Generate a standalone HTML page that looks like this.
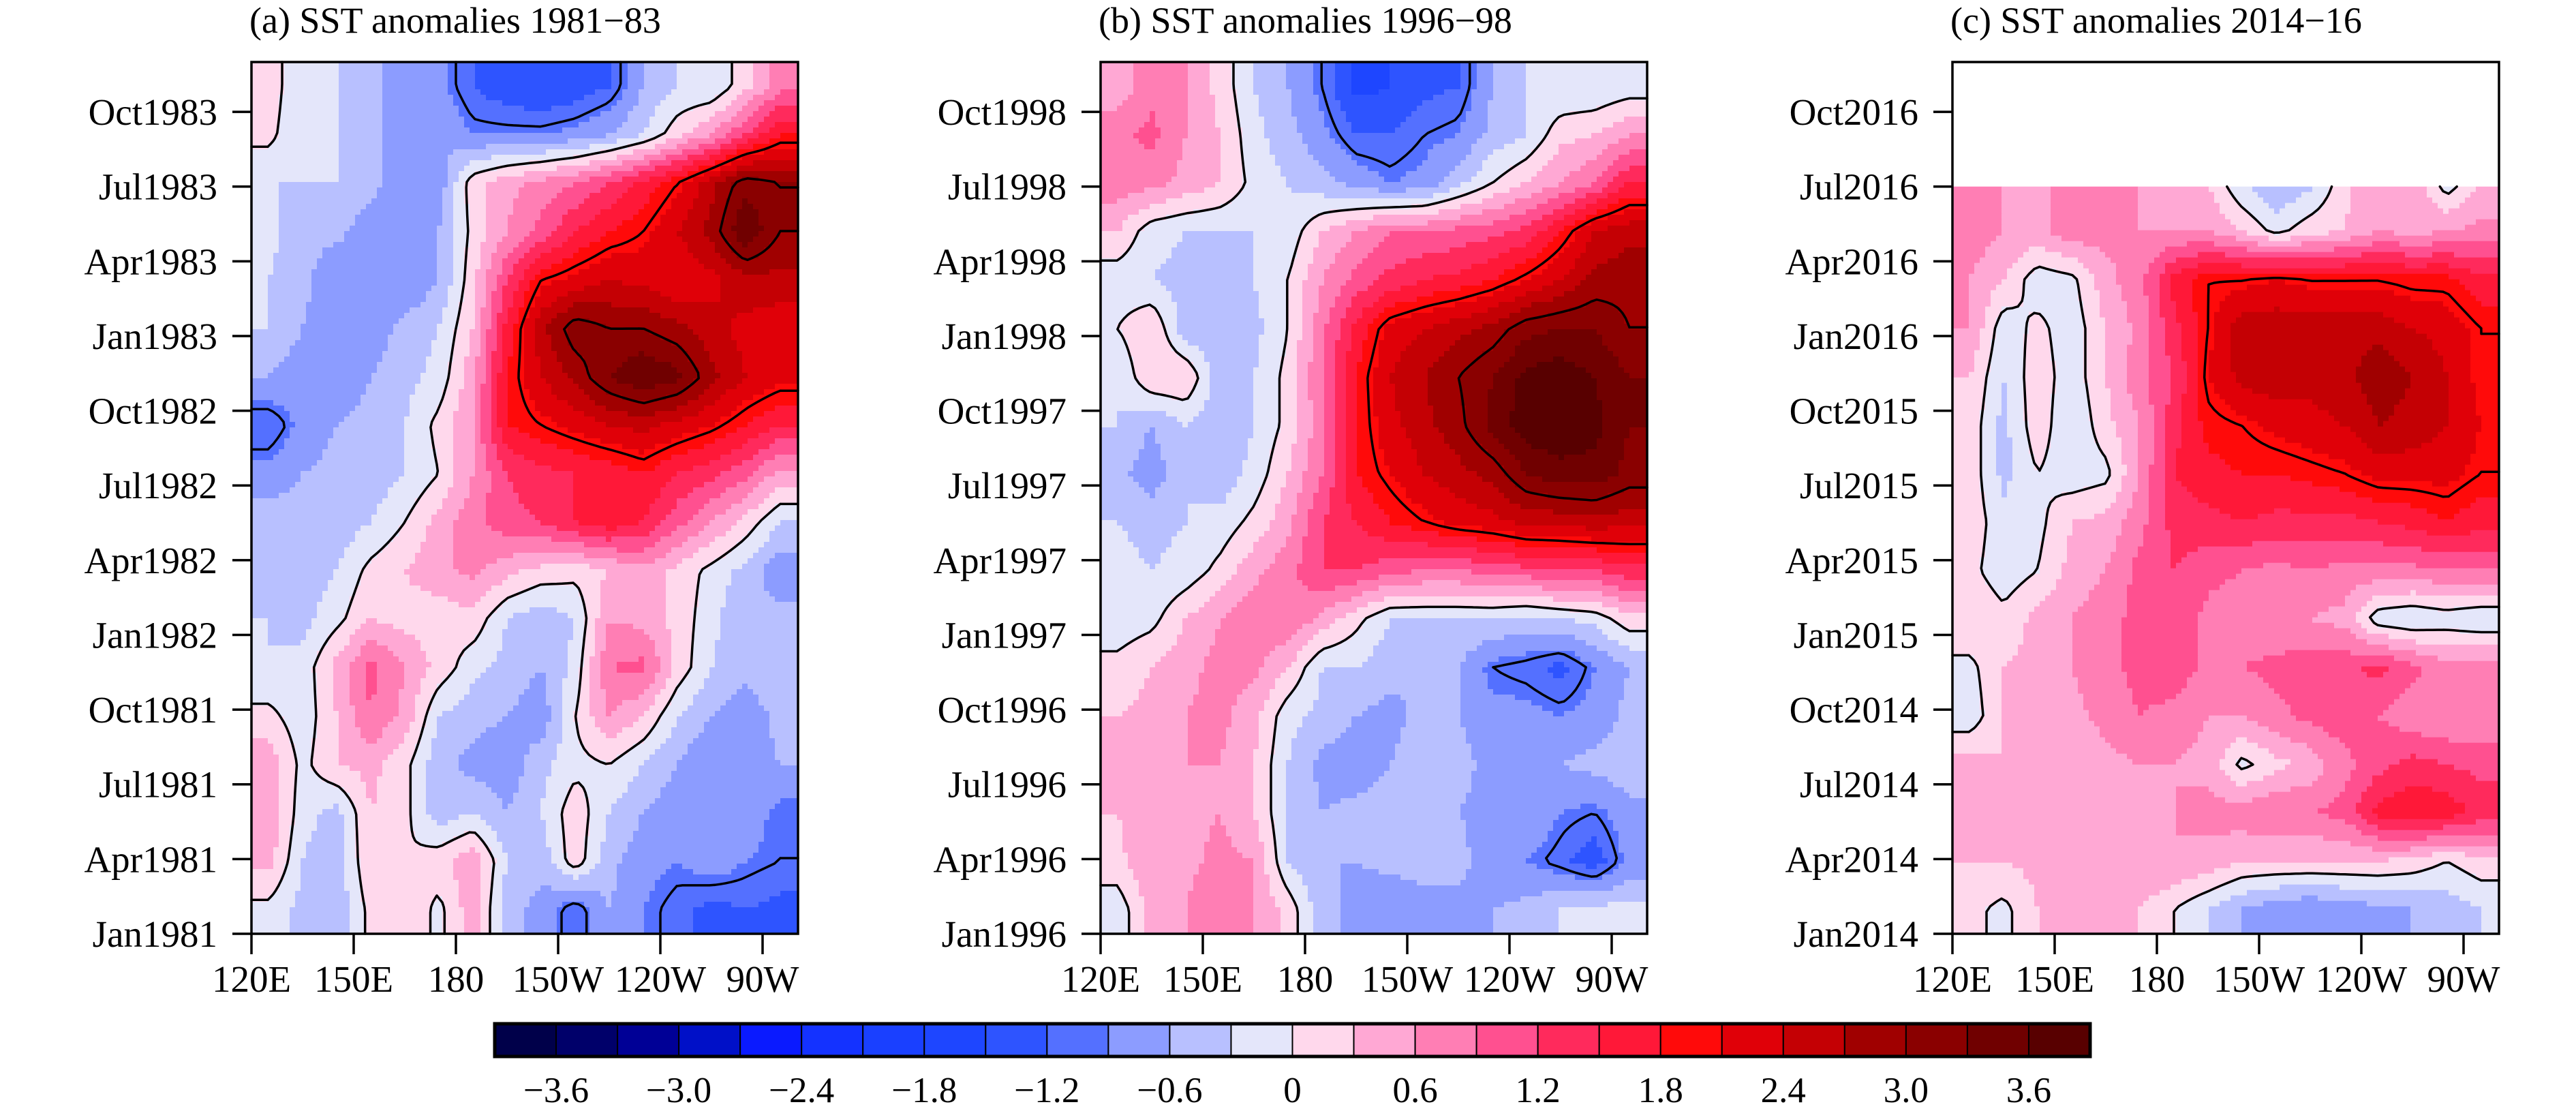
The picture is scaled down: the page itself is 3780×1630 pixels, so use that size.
<!DOCTYPE html>
<html><head><meta charset="utf-8">
<style>
html,body{margin:0;padding:0;background:#fff;}
svg{display:block;font-family:"Liberation Serif",serif;}
</style></head>
<body>
<svg id="fig" width="3780" height="1630" viewBox="0 0 3780 1630" xmlns="http://www.w3.org/2000/svg"></svg>
<script>
// ---- data ----
const lonCenters = [125,135,145,155,165,175,185,195,205,215,225,235,245,255,265,275];
const lonTicks = [120,150,180,210,240,270];
const lonTickLabels = ["120E","150E","180","150W","120W","90W"];
const levelLabels = ["−3.6","−3.0","−2.4","−1.8","−1.2","−0.6","0","0.6","1.2","1.8","2.4","3.0","3.6"];
const levelColors = ["#00004a","#00006a","#000096","#0010c8","#0a1aff","#1432ff","#1a40ff","#1e46ff","#2e54ff","#5470ff","#8c9cff","#b8c0ff","#e4e6fa","#ffd8ec","#ffa8d4","#ff7eb4","#ff5090","#ff2a5c","#ff1838","#ff0a0a","#e00008","#c40004","#a00000","#8a0000","#700000","#580000"];
const contourLevels = [-1, 0, 2, 3];
const titlesA = "(a) SST anomalies 1981−83";
const titlesB = "(b) SST anomalies 1996−98";
const titlesC = "(c) SST anomalies 2014−16";
const timeLabelsA = ["Jan1981","Apr1981","Jul1981","Oct1981","Jan1982","Apr1982","Jul1982","Oct1982","Jan1983","Apr1983","Jul1983","Oct1983"];
const timeLabelsB = ["Jan1996","Apr1996","Jul1996","Oct1996","Jan1997","Apr1997","Jul1997","Oct1997","Jan1998","Apr1998","Jul1998","Oct1998"];
const timeLabelsC = ["Jan2014","Apr2014","Jul2014","Oct2014","Jan2015","Apr2015","Jul2015","Oct2015","Jan2016","Apr2016","Jul2016","Oct2016"];
// rows top (latest) -> bottom (earliest), 18 rows spanning 35 months
const sstA = [
[0.2,-0.3,-0.3,-0.5,-0.8,-0.8,-1.2,-1.4,-1.5,-1.4,-1.2,-0.6,-0.3,-0.3,0.2,0.8],
[0.1,-0.3,-0.3,-0.6,-0.6,-0.6,-0.9,-0.9,-0.9,-0.8,-0.6,-0.3,0.2,0.6,1.2,1.8],
[-0.3,-0.3,-0.3,-0.5,-0.8,-0.8,0.2,0.5,0.7,0.9,1.2,1.6,2.0,2.6,3.2,3.0],
[-0.2,-0.5,-0.5,-0.8,-0.8,-0.6,0.1,0.6,1.0,1.5,1.8,2.0,2.4,2.8,3.6,3.0],
[-0.3,-0.5,-0.9,-0.9,-0.9,-0.6,0.2,1.2,2.0,2.2,2.4,2.3,2.1,2.3,2.6,2.6],
[-0.3,-0.6,-0.8,-0.8,-0.5,-0.3,0.3,1.6,2.6,3.2,3.0,3.0,2.8,2.5,2.3,2.2],
[-0.6,-0.8,-0.8,-0.6,-0.4,-0.2,0.5,1.8,2.4,2.8,3.3,3.6,3.4,2.8,2.4,2.2],
[-1.2,-0.8,-0.6,-0.5,-0.3,0.1,0.6,1.8,2.0,2.2,2.4,2.5,2.3,2.1,1.8,1.5],
[-0.8,-0.6,-0.5,-0.5,-0.3,0.0,0.6,1.2,1.4,1.5,1.6,1.8,1.5,1.3,1.0,0.5],
[-0.4,-0.5,-0.5,-0.3,0.0,0.4,0.8,1.1,1.2,1.5,1.7,1.5,1.0,0.6,0.2,-0.3],
[-0.4,-0.5,-0.3,0.1,0.3,0.5,0.7,0.4,0.2,0.1,0.3,0.5,0.2,-0.1,-0.4,-0.8],
[-0.3,-0.4,-0.1,0.3,0.2,0.1,0.2,-0.3,-0.5,-0.3,0.6,0.5,0.2,-0.2,-0.6,-0.5],
[-0.3,-0.2,0.4,1.0,0.6,0.2,-0.2,-0.4,-0.6,-0.2,0.9,1.0,0.2,-0.3,-0.5,-0.3],
[0.1,-0.2,0.3,0.9,0.5,-0.3,-0.5,-0.6,-0.8,0.0,0.6,0.3,-0.3,-0.6,-0.8,-0.5],
[0.5,-0.1,0.3,0.4,0.1,-0.5,-0.7,-0.8,-0.4,-0.1,0.0,-0.3,-0.6,-0.9,-0.8,-0.6],
[0.6,-0.2,-0.4,0.3,0.1,-0.5,-0.3,-0.6,-0.3,0.2,-0.3,-0.6,-0.8,-0.9,-0.7,-1.0],
[0.4,-0.3,-0.5,0.3,0.0,0.2,0.5,-0.3,-0.5,0.2,-0.5,-0.8,-0.9,-0.7,-0.9,-1.0],
[-0.1,-0.4,-0.5,0.1,0.3,-0.1,0.5,-0.5,-0.7,-1.2,-0.6,-0.9,-1.1,-1.3,-1.2,-1.3]
];
const sstB = [
[0.4,0.8,0.6,0.2,-0.3,-0.6,-1.0,-1.6,-1.5,-1.3,-1.2,-0.6,-0.3,-0.3,-0.3,-0.2],
[0.8,1.0,0.6,0.3,-0.2,-0.5,-0.8,-1.2,-1.2,-1.0,-0.9,-0.5,-0.3,0.2,0.3,0.6],
[0.8,0.7,0.5,0.3,-0.1,-0.3,-0.5,-0.7,-0.9,-0.8,-0.4,0.0,0.3,0.6,0.9,1.5],
[0.3,-0.2,-0.3,-0.3,-0.3,-0.2,0.3,0.6,0.9,0.9,1.0,1.1,1.3,1.8,2.4,2.6],
[-0.2,-0.3,-0.4,-0.6,-0.3,0.0,0.6,1.0,1.3,1.5,1.6,1.8,2.1,2.4,2.8,2.9],
[0.0,0.3,-0.5,-0.6,-0.4,0.0,0.8,1.6,2.2,2.4,2.6,2.8,3.2,3.3,3.3,3.0],
[-0.3,0.3,0.3,-0.5,-0.3,0.1,0.9,1.8,2.4,2.7,3.0,3.3,3.7,3.8,3.6,3.3],
[-0.3,-0.6,-0.3,-0.5,-0.3,0.1,0.8,1.8,2.3,2.6,2.9,3.4,3.8,3.8,3.7,3.3],
[-0.5,-0.8,-0.3,-0.5,-0.2,0.3,0.9,1.8,2.1,2.4,2.6,2.8,3.3,3.5,3.5,3.2],
[-0.3,-0.4,-0.3,-0.2,0.1,0.5,1.2,1.5,1.8,2.0,2.2,2.3,2.5,2.5,2.6,2.5],
[-0.2,-0.3,-0.2,0.1,0.5,0.8,1.2,1.2,1.0,0.9,0.9,1.0,1.1,1.2,1.2,1.4],
[-0.2,-0.1,0.3,0.6,0.8,0.9,0.5,0.1,-0.3,-0.3,-0.3,-0.3,-0.4,-0.3,-0.2,0.2],
[0.1,0.3,0.5,0.7,0.7,0.3,-0.3,-0.3,-0.5,-0.6,-0.6,-1.0,-1.1,-1.3,-0.9,-0.6],
[0.3,0.4,0.6,0.7,0.4,-0.2,-0.4,-0.6,-0.7,-0.5,-0.6,-0.8,-0.8,-0.9,-0.8,-0.5],
[0.3,0.5,0.6,0.6,0.3,-0.3,-0.7,-0.8,-0.6,-0.4,-0.5,-0.7,-0.6,-0.6,-0.5,-0.4],
[0.3,0.6,0.5,0.6,0.3,-0.3,-0.6,-0.5,-0.4,-0.5,-0.6,-0.7,-0.6,-0.9,-1.0,-0.7],
[0.2,0.6,0.5,0.7,0.6,-0.3,-0.6,-0.6,-0.5,-0.4,-0.5,-0.8,-0.9,-1.1,-1.4,-0.8],
[-0.2,0.4,0.6,0.9,0.6,0.2,-0.5,-0.7,-0.9,-0.8,-0.7,-0.6,-0.5,-0.3,-0.2,-0.2]
];
const sstC = [
null,
null,
[0.7,0.6,0.5,0.8,0.6,0.6,0.5,0.3,-0.3,-0.6,-0.4,0.2,0.6,0.6,-0.2,0.3],
[0.8,0.6,0.5,0.8,0.7,0.6,0.6,0.6,0.3,-0.1,0.2,0.3,0.6,0.5,0.6,0.7],
[0.6,0.3,-0.2,-0.1,0.5,0.8,1.6,2.0,2.0,2.1,2.0,2.0,2.0,1.9,1.9,1.6],
[0.6,-0.2,0.1,-0.2,0.3,0.7,1.4,2.0,2.6,2.6,2.6,2.6,2.6,2.4,2.3,2.0],
[0.3,-0.3,0.2,-0.2,0.3,0.8,1.2,2.1,2.5,2.6,2.5,2.6,2.9,2.7,2.4,2.0],
[0.2,-0.4,0.2,-0.3,0.2,0.6,1.4,1.9,2.0,2.2,2.3,2.4,2.7,2.6,2.4,2.1],
[0.2,-0.4,0.0,-0.2,-0.1,0.6,1.5,1.7,1.8,1.8,1.9,2.0,2.2,2.2,2.2,2.0],
[0.2,-0.2,-0.1,0.3,0.4,0.8,1.3,1.4,1.5,1.4,1.4,1.4,1.5,1.6,1.8,1.6],
[0.1,-0.2,0.0,0.4,0.6,1.0,1.2,1.0,0.9,0.8,0.9,0.8,0.8,0.8,0.9,0.9],
[0.3,0.1,0.4,0.6,0.8,1.0,1.1,0.8,0.7,0.6,0.6,0.5,-0.2,-0.3,-0.2,-0.3],
[-0.1,0.3,0.4,0.6,0.8,1.0,1.1,0.8,0.9,1.0,1.1,1.1,1.3,1.0,0.7,0.8],
[-0.2,0.3,0.4,0.5,0.7,0.9,0.8,0.6,0.6,0.8,1.0,1.1,0.9,0.7,0.6,0.6],
[0.4,0.3,0.4,0.3,0.5,0.6,0.6,0.5,-0.1,0.2,0.4,0.8,1.1,1.3,1.2,1.1],
[0.3,0.4,0.3,0.4,0.6,0.5,0.6,0.7,0.8,0.9,0.9,1.0,1.6,1.8,1.7,1.4],
[0.3,0.3,0.4,0.5,0.6,0.6,0.6,0.5,0.3,0.3,0.3,0.3,0.3,0.2,0.0,0.2],
[0.1,-0.1,0.3,0.5,0.4,0.3,0.0,-0.3,-0.6,-0.8,-0.9,-0.8,-0.7,-0.6,-0.5,-0.3]
];
const dataEndC = 30; // months of data available in panel c

// ---- layout ----
const NS = "http://www.w3.org/2000/svg";
const svg = document.getElementById('fig');
const PT = 91, PB = 1370, MONTHS = 35;
function mk(tag, attrs, parent){ const e=document.createElementNS(NS,tag); for(const k in attrs) e.setAttribute(k,attrs[k]); (parent||svg).appendChild(e); return e; }
function levelIndex(v){ return Math.max(0, Math.min(25, Math.floor(v/0.3 + 1e-9) + 13)); }

function drawPanel(id, left, grid, title, tlabels, endMonth){
  const W = 802;
  const LONSPAN = 160.4;
  const xOf = lon => left + (lon - 120) * (W / LONSPAN);
  const yOf = m => PB - m * (PB - PT) / MONTHS;
  const nR = grid.length, nC = lonCenters.length;
  const g = mk('g', {}, svg);
  
  
  const field = mk('g', {}, g);
  
  
  let firstRow = 0; while (!grid[firstRow]) firstRow++;
  function val(lon, m){
    let fc = (lon - lonCenters[0]) / 10; fc = Math.max(0, Math.min(nC - 1, fc));
    let fr = (MONTHS - m) / (MONTHS / nR) - 0.5; fr = Math.max(firstRow, Math.min(nR - 1, fr));
    const r0 = Math.floor(fr), r1 = Math.min(nR - 1, r0 + 1);
    const c0 = Math.floor(fc), c1 = Math.min(nC - 1, c0 + 1);
    const tr = fr - r0, tc = fc - c0;
    const a = grid[r0][c0]*(1-tc) + grid[r0][c1]*tc;
    const b = grid[r1][c0]*(1-tc) + grid[r1][c1]*tc;
    return a*(1-tr) + b*tr;
  }
  const step = 8;
  const yTop = yOf(endMonth);
  const nX = Math.ceil(W / step), nY = Math.ceil((PB - yTop) / step);
  for (let j = 0; j < nY; j++) {
    const y0 = yTop + j * step, y1 = Math.min(PB, y0 + step);
    const m = (PB - (y0 + y1) / 2) * MONTHS / (PB - PT);
    let runStart = left, runIdx = -1;
    const flush = (xe) => {
      const rc = mk('rect', {x: runStart, y: y0, width: xe - runStart + 0.6, height: y1 - y0 + 0.6, fill: levelColors[runIdx]}, field);
      
      
    };
    for (let i = 0; i < nX; i++) {
      const x0 = left + i * step, x1 = Math.min(left + W, x0 + step);
      const lon = 120 + ((x0 + x1) / 2 - left) * LONSPAN / W;
      const idx = levelIndex(val(lon, m));
      if (idx !== runIdx) {
        if (runIdx >= 0) flush(x0);
        runStart = x0; runIdx = idx;
      }
    }
    flush(left + W);
  }
  // contours (marching squares on sampled field)
  const cs = 8;
  const gx = Math.ceil(W / cs) + 1, gy = Math.ceil((PB - yTop) / cs) + 1;
  const S = [];
  for (let j = 0; j < gy; j++) {
    const row = [];
    const y = Math.min(PB, yTop + j * cs);
    const m = (PB - y) * MONTHS / (PB - PT);
    for (let i = 0; i < gx; i++) {
      const x = Math.min(left + W, left + i * cs);
      row.push(val(120 + (x - left) * LONSPAN / W, m));
    }
    S.push(row);
  }
  contourLevels.forEach(L => {
    let d = '';
    for (let j = 0; j < gy - 1; j++) for (let i = 0; i < gx - 1; i++) {
      const xa = Math.min(left + W, left + i * cs), xb = Math.min(left + W, left + (i + 1) * cs);
      const ya = Math.min(PB, yTop + j * cs), yb = Math.min(PB, yTop + (j + 1) * cs);
      const v = [S[j][i], S[j][i+1], S[j+1][i+1], S[j+1][i]];
      const p = [[xa,ya],[xb,ya],[xb,yb],[xa,yb]];
      const pts = [];
      for (let k = 0; k < 4; k++) {
        const a = v[k] - L, b = v[(k+1)%4] - L;
        if ((a < 0) !== (b < 0)) {
          const t = a / (a - b);
          const P = p[k], Q = p[(k+1)%4];
          pts.push([P[0] + (Q[0]-P[0])*t, P[1] + (Q[1]-P[1])*t]);
        }
      }
      for (let k = 0; k + 1 < pts.length; k += 2)
        d += 'M' + pts[k][0].toFixed(1) + ' ' + pts[k][1].toFixed(1) + 'L' + pts[k+1][0].toFixed(1) + ' ' + pts[k+1][1].toFixed(1);
    }
    if (d) {
      const cp = mk('path', {d: d, fill: 'none', stroke: '#000', 'stroke-width': 3.5, 'stroke-linecap': 'round', 'stroke-dasharray': L < 0 ? '12 8' : 'none'}, g);
      
      
    }
  });
  // frame
  const fr = mk('rect', {x: left, y: PT, width: W, height: PB - PT, fill: 'none', stroke: '#000', 'stroke-width': 3.5}, g);
  
  
  const t = mk('text', {x: left - 3, y: 48, 'font-size': 54, fill: '#000'}, g);
  t.textContent = title;
  
  
  tlabels.forEach((lab, i) => {
    const y = yOf(i * 3);
    const tk = mk('line', {x1: left - 28, x2: left, y1: y, y2: y, stroke: '#000', 'stroke-width': 3.5}, g);
    
    
    const tx = mk('text', {x: left - 50, y: y + 19, 'font-size': 55, 'text-anchor': 'end'}, g);
    tx.textContent = lab;
    
    
  });
  lonTicks.forEach((lon, i) => {
    const x = xOf(lon);
    const tk = mk('line', {x1: x, x2: x, y1: PB, y2: PB + 30, stroke: '#000', 'stroke-width': 3.5}, g);
    
    
    const tx = mk('text', {x: x, y: 1455, 'font-size': 55, 'text-anchor': 'middle'}, g);
    tx.textContent = lonTickLabels[i];
    
    
  });
}
drawPanel('panel-a', 369, sstA, titlesA, timeLabelsA, MONTHS);
drawPanel('panel-b', 1615, sstB, titlesB, timeLabelsB, MONTHS);
drawPanel('panel-c', 2865, sstC, titlesC, timeLabelsC, dataEndC);

// ---- colorbar ----
const cb = mk('g', {}, svg);


const CBL = 726, CBR = 3067, CBT = 1502, CBB = 1550;
const bw = (CBR - CBL) / levelColors.length;
levelColors.forEach((c, i) => {
  const r = mk('rect', {x: CBL + i * bw, y: CBT, width: bw, height: CBB - CBT, fill: c, stroke: '#000', 'stroke-width': 2}, cb);
  
  
});
const cbf = mk('rect', {x: CBL, y: CBT, width: CBR - CBL, height: CBB - CBT, fill: 'none', stroke: '#000', 'stroke-width': 5}, cb);


levelLabels.forEach((lab, i) => {
  const x = CBL + (1 + 2 * i) * bw;
  const t = mk('text', {x: x, y: 1617, 'font-size': 53, 'text-anchor': 'middle'}, cb);
  t.textContent = lab;
  
  
});
</script>
</body></html>
